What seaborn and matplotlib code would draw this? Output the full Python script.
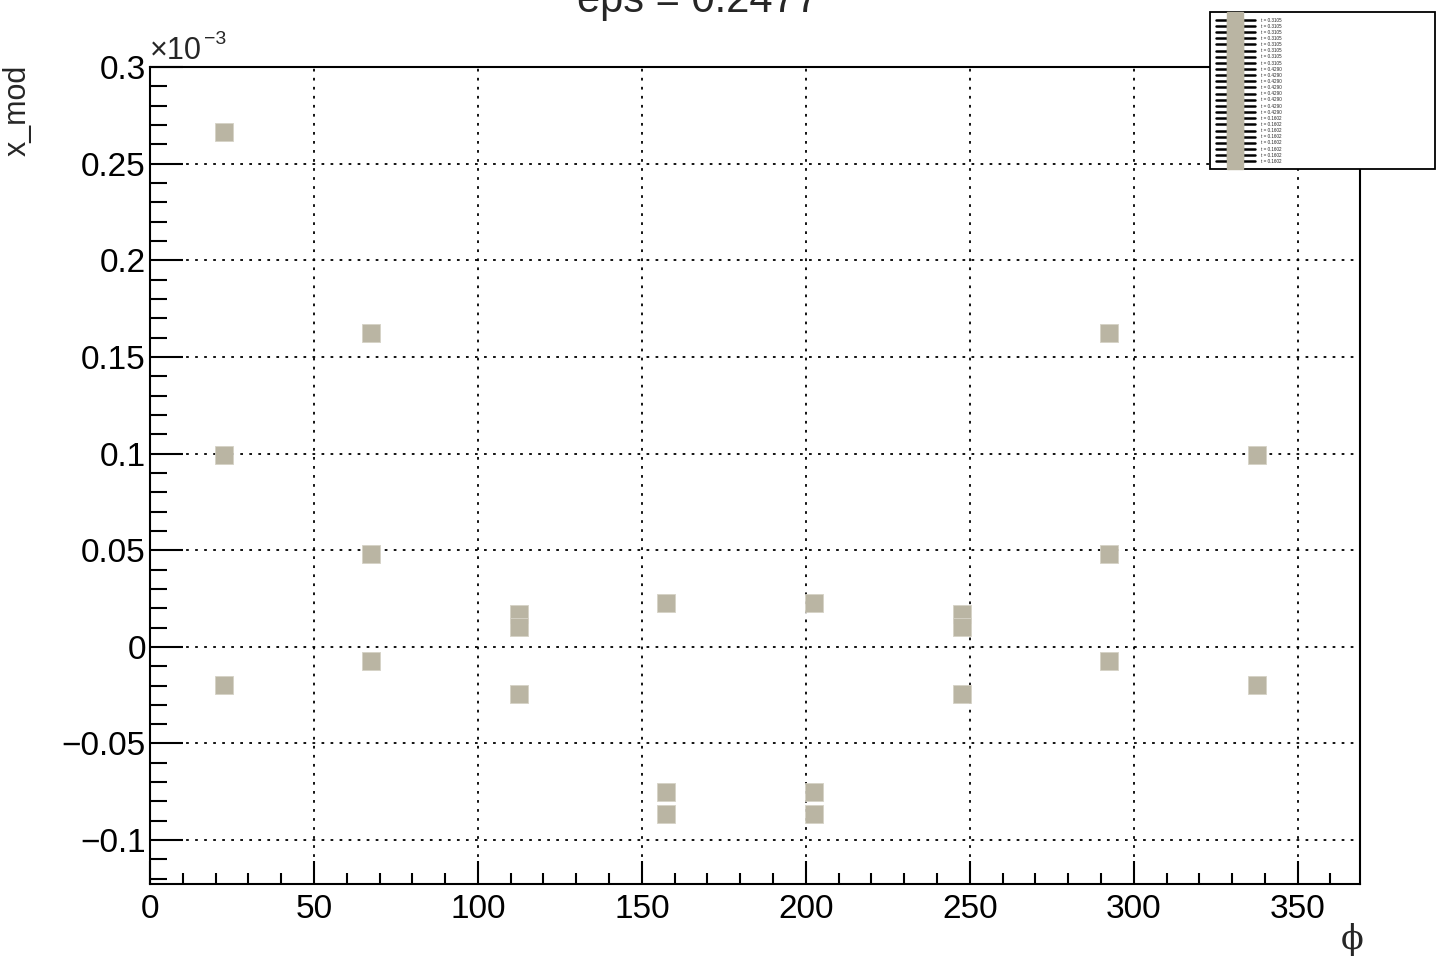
import numpy as np
import pandas as pd
import matplotlib
matplotlib.use("Agg")
import matplotlib.pyplot as plt
from matplotlib.lines import Line2D
from matplotlib.ticker import MultipleLocator, FuncFormatter
import seaborn as sns

# phi positions and x_mod values (in units of 1e-3), one series per t
phi = [22.5, 67.5, 112.5, 157.5, 202.5, 247.5, 292.5, 337.5]
t_labels = ["0.3105", "0.4290", "0.1602"]
xmod_t3105 = [0.2664, 0.1626, -0.0243, -0.0867, -0.0867, -0.0243, 0.1626, 0.2664]
xmod_t4290 = [0.0991, 0.0480, 0.0168, -0.0749, -0.0749, 0.0168, 0.0480, 0.0991]
xmod_t1602 = [-0.0196, -0.0072, 0.0101, 0.0227, 0.0227, 0.0101, -0.0072, -0.0196]

marker_color = "#bab5a3"

rows = []
for t, vals in zip(t_labels, [xmod_t3105, xmod_t4290, xmod_t1602]):
    for p, v in zip(phi, vals):
        rows.append({"phi": p, "x_mod": v, "t": t})
df = pd.DataFrame(rows)

sns.set_style("white")
plt.rcParams["font.family"] = ["Liberation Sans", "DejaVu Sans"]

fig = plt.figure(figsize=(14.36, 9.58), dpi=100)
ax = fig.add_axes([150 / 1436, 1 - 884 / 958, 1210 / 1436, 817 / 958])

sns.scatterplot(data=df, x="phi", y="x_mod", color=marker_color, marker="s",
                s=150, linewidth=0.6, edgecolor="#d6d2c6", ax=ax, legend=False,
                zorder=3)

ax.set_xlim(0, 369)
ax.set_ylim(-0.1227, 0.3)
ax.set_xlabel("")
ax.set_ylabel("")

ax.xaxis.set_major_locator(MultipleLocator(50))
ax.xaxis.set_minor_locator(MultipleLocator(10))
ax.yaxis.set_major_locator(MultipleLocator(0.05))
ax.yaxis.set_minor_locator(MultipleLocator(0.01))

fmt = FuncFormatter(lambda v, pos: ("%g" % round(v, 4)).replace("-", "\u2212"))
ax.xaxis.set_major_formatter(fmt)
ax.yaxis.set_major_formatter(fmt)

ax.tick_params(axis="both", which="both", direction="in", width=1.5,
               colors="black", labelsize=24, bottom=True, left=True,
               top=False, right=False)
ax.tick_params(axis="y", which="major", length=24, pad=3)
ax.tick_params(axis="y", which="minor", length=12)
ax.tick_params(axis="x", which="major", length=16.5, pad=7)
ax.tick_params(axis="x", which="minor", length=8)

ax.grid(True, which="major", color="black", linestyle=(0, (1.5, 3.5)), linewidth=1.3)
for sp in ax.spines.values():
    sp.set_visible(True)
    sp.set_color("black")
    sp.set_linewidth(1.5)

# title (partly above the canvas, as in the original)
fig.text(577 / 1436, 1 - 12 / 958, "eps = 0.2477", fontsize=30, ha="left", va="baseline")
# axis titles
fig.text(18 / 1436, 1 - 65 / 958, "x_mod", rotation=90, fontsize=22, ha="center", va="top")
fig.text(1352 / 1436, 1 - 940 / 958, "\u03d5", fontsize=24, ha="center", va="center",
         family="DejaVu Serif")
# exponent
fig.text(150 / 1436, 1 - 59 / 958, "\u00d710", fontsize=22, ha="left", va="baseline")
fig.text(204 / 1436, 1 - 44 / 958, "\u22123", fontsize=14, ha="left", va="baseline")

handles = []
labels = []
for t in t_labels:
    for _ in phi:
        handles.append(Line2D([], [], color="black", linewidth=1.8, marker="s",
                              markersize=12.2, markerfacecolor=marker_color,
                              markeredgecolor=marker_color))
        labels.append("t = " + t)

leg = fig.legend(handles, labels, loc="upper left",
                 bbox_to_anchor=(1210 / 1436, 1 - 12 / 958, 225 / 1436, 0.0),
                 mode="expand", fontsize=3.3, labelspacing=0.25, handlelength=8.7,
                 handletextpad=1.2, borderpad=1.2, borderaxespad=0, frameon=True,
                 fancybox=False, framealpha=1, edgecolor="black")
leg.get_frame().set_linewidth(1.3)

fig.savefig("out.png", dpi=100)
